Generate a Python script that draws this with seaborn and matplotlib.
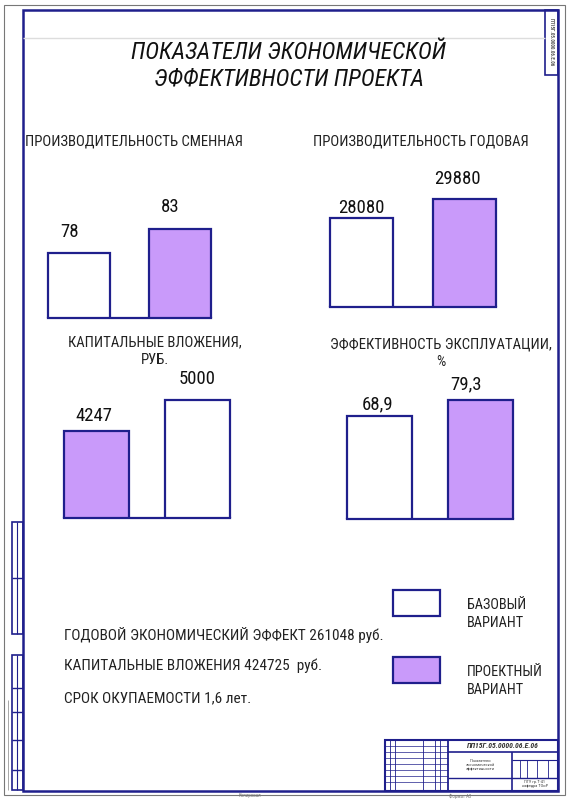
import pandas as pd
import matplotlib
matplotlib.use("Agg")
import matplotlib.pyplot as plt
import seaborn as sns
from matplotlib.patches import Rectangle

# данные
smena_vals = [78, 83]
smena_labels = ["78", "83"]
smena_vars = ["base", "proj"]

god_vals = [28080, 29880]
god_labels = ["28080", "29880"]
god_vars = ["base", "proj"]

kap_vals = [4247, 5000]
kap_labels = ["4247", "5000"]
kap_vars = ["proj", "base"]

eff_vals = [68.9, 79.3]
eff_labels = ["68,9", "79,3"]
eff_vars = ["base", "proj"]

chart_titles = ["ПРОИЗВОДИТЕЛЬНОСТЬ СМЕННАЯ", "ПРОИЗВОДИТЕЛЬНОСТЬ ГОДОВАЯ",
                "КАПИТАЛЬНЫЕ ВЛОЖЕНИЯ,\nРУБ.", "ЭФФЕКТИВНОСТЬ ЭКСПЛУАТАЦИИ,\n%"]
summary_lines = ["ГОДОВОЙ ЭКОНОМИЧЕСКИЙ ЭФФЕКТ 261048 руб.",
                 "КАПИТАЛЬНЫЕ ВЛОЖЕНИЯ 424725  руб.",
                 "СРОК ОКУПАЕМОСТИ 1,6 лет."]
legend_names = ["БАЗОВЫЙ\nВАРИАНТ", "ПРОЕКТНЫЙ\nВАРИАНТ"]
main_title = "ПОКАЗАТЕЛИ ЭКОНОМИЧЕСКОЙ\nЭФФЕКТИВНОСТИ ПРОЕКТА"
doc_code = "ПП15Г.05.0000.06.Е.06"

# оформление
EDGE = "#1f1f8c"
PURPLE = "#c99afa"
colors = {"base": "white", "proj": PURPLE}
FONT = ["Roboto Condensed", "Roboto", "DejaVu Sans"]

sns.set_theme(style="white")
plt.rcParams["font.family"] = FONT
plt.rcParams["text.color"] = "#1a1a1a"

W, H = 569, 800
fig = plt.figure(figsize=(W / 100, H / 100), dpi=100)
fig.patch.set_facecolor("white")

# фон листа в пикселях
bg = fig.add_axes([0, 0, 1, 1])
bg.set_xlim(0, W)
bg.set_ylim(H, 0)
bg.axis("off")


def line(x0, y0, x1, y1, c=EDGE, lw=1.5):
    bg.plot([x0, x1], [y0, y1], color=c, lw=lw, solid_capstyle="butt")


def box(x, y, w, h, fc="none", ec=EDGE, lw=1.5):
    bg.add_patch(Rectangle((x, y), w, h, fc=fc, ec=ec, lw=lw))


# рамки
box(4, 5, 561, 790, ec="#777777", lw=0.8)
box(23, 10, 535, 781, lw=1.8)
line(23, 38, 545, 38, c="#dddddd", lw=1.0)
box(545, 10, 13, 65, lw=1.2)
bg.text(551.5, 42, doc_code, rotation=270, fontsize=3.6, ha="center", va="center",
        color="#555555", fontweight="bold")

# боковые графы слева
box(12, 522, 11, 112, lw=1.2)
line(12, 578, 23, 578, lw=1.0)
line(17.5, 522, 17.5, 634, lw=0.8)
box(12, 655, 11, 135, lw=1.2)
for yy in [688, 712, 740, 770]:
    line(12, yy, 23, yy, lw=1.0)
line(17.5, 655, 17.5, 790, lw=0.8)
line(8, 700, 8, 790, c="#999999", lw=0.6)

# основная надпись
box(385, 740, 173, 51, lw=1.5)
line(448, 740, 448, 791, lw=1.3)
line(448, 752, 558, 752, lw=1.2)
line(448, 778, 558, 778, lw=1.0)
line(512, 752, 512, 791, lw=1.2)
line(512, 760, 558, 760, lw=0.8)
for xx in [520, 527, 537, 548]:
    line(xx, 760, xx, 778, lw=0.6)
for xx in [390, 395, 423, 435, 440]:
    line(xx, 740, xx, 791, lw=0.6)
for yy in [746, 752, 758, 764, 770, 776, 782]:
    line(385, yy, 448, yy, lw=0.5)
bg.text(503, 746, doc_code, fontsize=5.5, ha="center", va="center", style="italic",
        fontweight="bold", color="#333333")
bg.text(480, 765, "Показатели\nэкономической\nэффективности", fontsize=3.2,
        ha="center", va="center", color="#444444", linespacing=0.9)
bg.text(535, 784, "ПГУ гр.Т-41\nкафедра ТОиР", fontsize=3.2, ha="center",
        va="center", color="#444444", linespacing=0.9)
bg.text(250, 796, "Копировал", fontsize=3.5, ha="center", va="center", color="#777777")
bg.text(460, 796, "Формат А3", fontsize=3.5, ha="center", va="center", color="#777777")

# заголовок
bg.text(289, 66, main_title, fontsize=17, style="italic", ha="center", va="center",
        linespacing=1.2, color="#111111")

# диаграммы: (лево, право, база, верх, ширина столбца, нижняя граница оси)
panels = [
    (smena_vars, smena_vals, smena_labels, (48, 211, 318, 229, 0.62, 64.5),
     [(-10, 21), (-10, 22)]),
    (god_vars, god_vals, god_labels, (330, 496, 307, 199, 0.61, 19650),
     [(0, 10), (-7, 20)]),
    (kap_vars, kap_vals, kap_labels, (64, 230, 518, 400, 0.65, 2135),
     [(-3, 15), (0, 21)]),
    (eff_vars, eff_vals, eff_labels, (347, 513, 519, 400, 0.64, 1.9),
     [(-2, 12), (-15, 16)]),
]
title_pos = [(134, 141), (421, 141), (155, 351), (441, 353)]
m = 4  # запас в пикселях, чтобы не срезать обводку

for (vars_, vals, labs, (l, r, b, t, w, y0), offs), title, (tx, ty) in zip(
        panels, chart_titles, title_pos):
    ax = fig.add_axes([(l - m) / W, 1 - b / H, (r - l + 2 * m) / W, (b - t + m) / H])
    df = pd.DataFrame({"var": vars_, "val": vals})
    sns.barplot(data=df, x="var", y="val", hue="var", palette=colors, width=w,
                edgecolor=EDGE, linewidth=1.6, saturation=1, legend=False, ax=ax)
    ux = (1 + w) / (r - l)
    uy = (max(vals) - y0) / (b - t)
    ax.set_xlim(-w / 2 - m * ux, 1 + w / 2 + m * ux)
    ax.set_ylim(y0, max(vals) + m * uy)
    ax.axis("off")
    ax.plot([-w / 2, 1 + w / 2], [y0, y0], color=EDGE, lw=1.6, clip_on=False,
            solid_capstyle="projecting")
    for i, (v, s) in enumerate(zip(vals, labs)):
        ax.annotate(s, (i, v), xytext=offs[i], textcoords="offset pixels",
                    ha="center", va="center", fontsize=13.5, color="#111111",
                    annotation_clip=False)
    bg.text(tx, ty, title, fontsize=10.6, ha="center", va="center", linespacing=1.3,
            color="#222222")

# итоги
for s, yy in zip(summary_lines, [635, 666, 698]):
    bg.text(64, yy, s, fontsize=11, ha="left", va="center", color="#222222")

# легенда
for (name, key), yy in zip(zip(legend_names, ["base", "proj"]), [590, 657]):
    box(393, yy, 47, 26, fc=colors[key], lw=1.6)
    bg.text(467, yy + 24, name, fontsize=10.3, ha="left", va="center",
            linespacing=1.35, color="#222222")

fig.savefig("out.png", dpi=100)
